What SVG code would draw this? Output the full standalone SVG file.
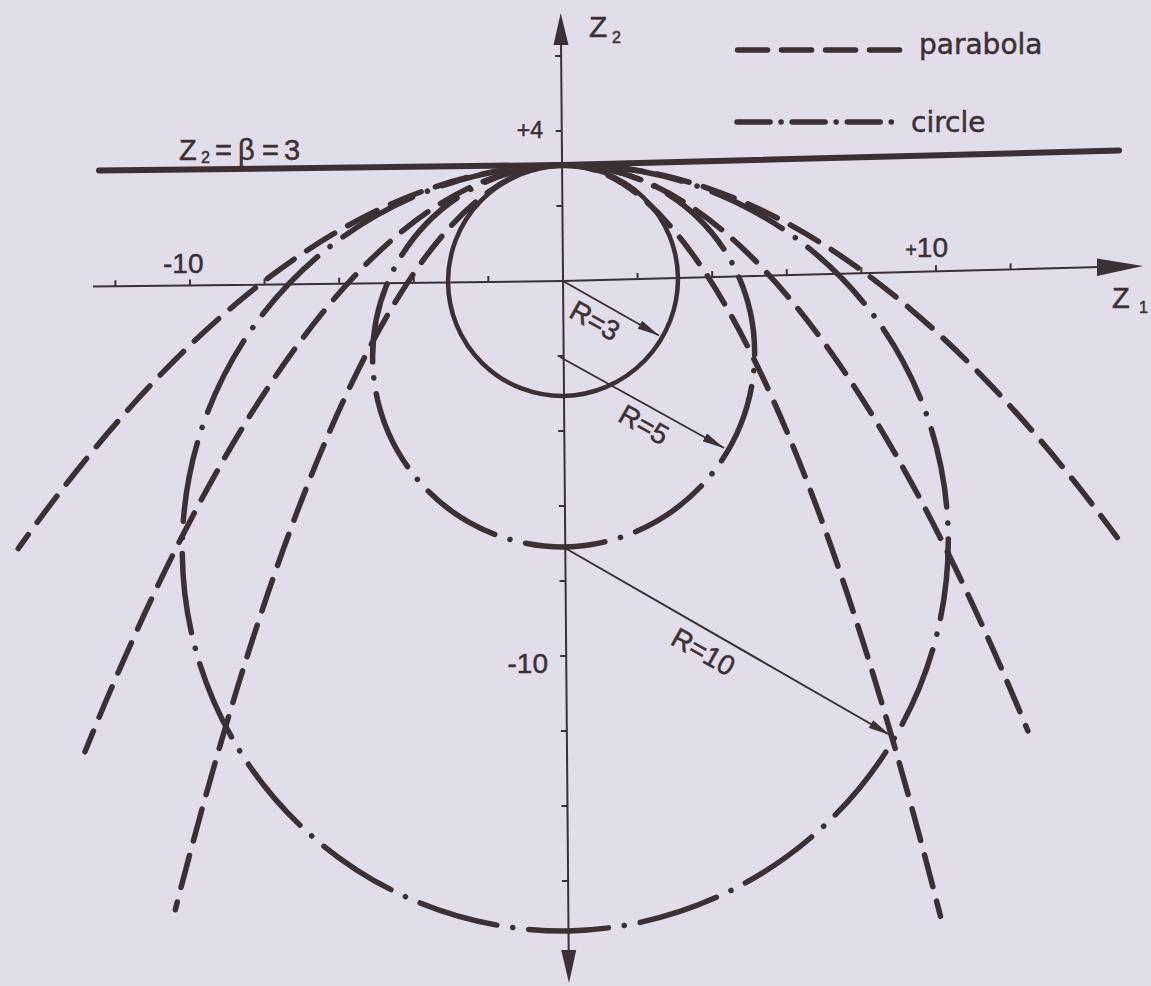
<svg xmlns="http://www.w3.org/2000/svg" width="1151" height="986" viewBox="0 0 1151 986">
<defs>
<style>
.bg{fill:#e1dee9}
.ax{stroke:#3b3033;stroke-width:2;fill:none}
.tk{stroke:#3b3033;stroke-width:2;fill:none}
.beta{stroke:#3b3033;stroke-width:6;fill:none;stroke-linecap:round}
.par{stroke:#3b3033;stroke-width:5.5;fill:none;stroke-linecap:round;stroke-dasharray:33 15}
.cir{stroke:#3b3033;stroke-width:5.5;fill:none;stroke-linecap:round;stroke-dasharray:80 16 0.1 16;stroke-dashoffset:40}
.leg2{stroke:#3b3033;stroke-width:5.5;fill:none;stroke-linecap:round;stroke-dasharray:33 11 0.1 11}
.sol{stroke:#3b3033;stroke-width:4.5;fill:none}
.rad{stroke:#3b3033;stroke-width:2;fill:none}
.hd{fill:#3b3033;stroke:none}
text{fill:#3b3033;stroke:#3b3033;stroke-width:0.5;font-family:"Liberation Sans",Arial,sans-serif}
.lg{font-family:"DejaVu Sans",sans-serif;font-size:28px}
</style>
<marker id="ah" markerWidth="22" markerHeight="9" refX="22" refY="4.5" orient="auto" markerUnits="userSpaceOnUse"><path d="M0,0 L22,4.5 L0,9 z" class="hd"/></marker>
</defs>
<rect class="bg" x="0" y="0" width="1151" height="986"/>

<g id="axes">
<path class="ax" d="M93,286.6 L563,281 L1100,267.1"/>
<polygon class="hd" points="1143,266 1097,258.5 1097,276"/>
<path class="ax" d="M561,40 L568.7,952"/>
<polygon class="hd" points="560.7,13 553.5,45 568.5,45"/>
<polygon class="hd" points="569,983 561.2,950 576.2,950"/>
<path class="tk" transform="matrix(1,-0.012,0.0085,1,563,281)" d="M-74.6,0v-6M-149.2,0v-6M-223.8,0v-6M-298.4,0v-6M-373,0v-6M-447.6,0v-6"/>
<path class="tk" transform="matrix(1,-0.026,0.0085,1,563,281)" d="M74.6,0v-6M149.2,0v-6M223.8,0v-6M298.4,0v-6M373,0v-6M447.6,0v-6"/>
<path class="tk" transform="matrix(1,0,0.0085,1,563,281)" d="M0,-225h-6M0,-150h-6M0,-75h-6M0,75h-6M0,150h-6M0,225h-6M0,300h-6M0,375h-6M0,450h-6M0,525h-6M0,600h-6"/>
</g>

<g id="axis-labels">
<text x="589" y="37" font-size="30">Z</text><text x="612" y="43" font-size="16">2</text>
<text x="1112" y="308" font-size="29">Z</text><text x="1139" y="313" font-size="16">1</text>
<text x="543" y="138" font-size="23" text-anchor="end">+4</text>
<text x="548" y="673" font-size="28" text-anchor="end">-10</text>
<text x="163" y="273" font-size="28">-10</text>
<text x="948" y="257" font-size="28" text-anchor="end"><tspan font-size="20">+</tspan>10</text>
</g>

<g id="beta-line">
<path class="beta" transform="matrix(1,-0.012,0.0085,1,563,281)" d="M-463,-116 L0,-116"/>
<path class="beta" transform="matrix(1,-0.026,0.0085,1,563,281)" d="M0,-116 L557,-116"/>
<text font-size="29" y="160"><tspan x="179">Z</tspan><tspan x="201" y="163" font-size="16">2</tspan><tspan x="215" y="160">=</tspan><tspan x="238">β</tspan><tspan x="262">=</tspan><tspan x="284">3</tspan></text>
</g>

<g id="circle-R3">
<path class="sol" transform="matrix(1,-0.012,0.0085,1,563,281)" d="M0,-115 A115,115 0 0 0 0,115"/>
<path class="sol" transform="matrix(1,-0.026,0.0085,1,563,281)" d="M0,-115 A115,115 0 0 1 0,115"/>
</g>
<g id="circle-R5">
<path class="cir" transform="matrix(1,-0.012,0.0085,1,563,281)" d="M0,266 A191,191 0 0 1 0,-116"/>
<path class="cir" transform="matrix(1,-0.026,0.0085,1,563,281)" d="M0,266 A191,191 0 0 0 0,-116"/>
</g>
<g id="circle-R10">
<path class="cir" transform="matrix(1,-0.012,0.0085,1,563,281)" d="M0,650 A383,383 0 0 1 0,-116"/>
<path class="cir" transform="matrix(1,-0.026,0.0085,1,563,281)" d="M0,650 A383,383 0 0 0 0,-116"/>
</g>

<g id="parabola-A">
<path class="par" transform="matrix(1,-0.012,0.0085,1,563,281)" d="M0,-116 Q-273.5,-116 -547,261"/>
<path class="par" transform="matrix(1,-0.026,0.0085,1,563,281)" d="M0,-116 Q276,-116 552,271"/>
</g>
<g id="parabola-B">
<path class="par" transform="matrix(1,-0.012,0.0085,1,563,281)" d="M0,-116 Q-241,-116 -482,465"/>
<path class="par" transform="matrix(1,-0.026,0.0085,1,563,281)" d="M0,-116 Q230.5,-116 461,462"/>
</g>
<g id="parabola-C">
<path class="par" transform="matrix(1,-0.012,0.0085,1,563,281)" d="M0,-116 Q-196.5,-116 -393,624"/>
<path class="par" transform="matrix(1,-0.026,0.0085,1,563,281)" d="M0,-116 Q186,-116 372,645"/>
</g>

<g id="radii">
<path class="rad" d="M563,281 L659,335.5" marker-end="url(#ah)"/>
<path class="rad" d="M560,357 L724,448" marker-end="url(#ah)"/>
<path class="rad" d="M565,548 L890,735" marker-end="url(#ah)"/>
<text transform="translate(595,320.5) rotate(29.5)" y="10" font-size="28" text-anchor="middle">R=3</text>
<text transform="translate(644,424.5) rotate(29.5)" y="10" font-size="28" text-anchor="middle">R=5</text>
<text transform="translate(703.5,651.5) rotate(29.5)" y="10" font-size="28" text-anchor="middle">R=10</text>
</g>

<g id="legend">
<path class="par" d="M737.5,50 L899.5,50" style="stroke-dasharray:30 14"/>
<text class="lg" x="919" y="54">parabola</text>
<path class="leg2" d="M737,122 L892,122"/>
<text class="lg" x="911" y="132">circle</text>
</g>
</svg>
